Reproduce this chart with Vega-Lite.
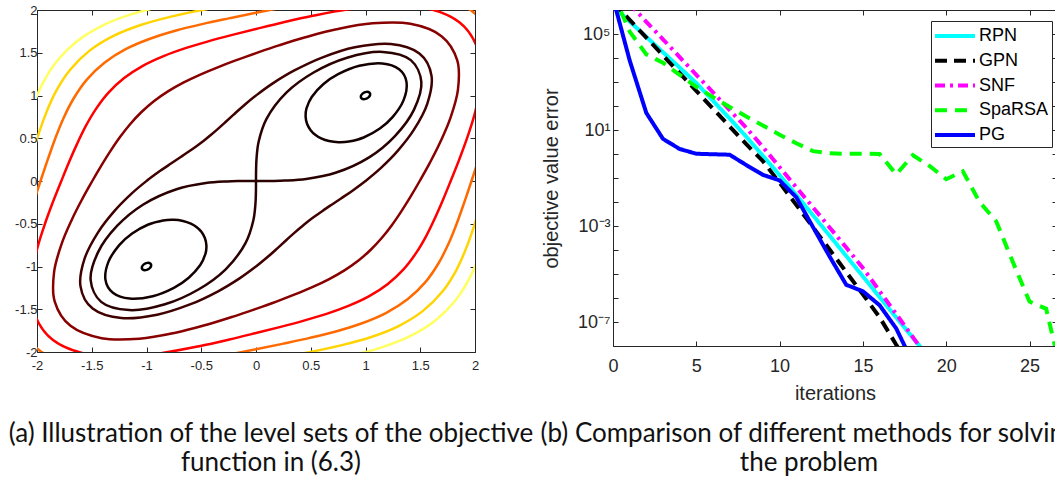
{
  "$schema": "https://vega.github.io/schema/vega-lite/v6.json",
  "background": "white",
  "padding": {"left": 8, "top": 1, "right": 0, "bottom": 0},
  "bounds": "flush",
  "spacing": 138,
  "resolve": {"scale": {"color": "independent", "strokeDash": "independent"}, "legend": {"color": "independent", "strokeDash": "independent"}},
  "config": {
    "view": {"stroke": null},
    "font": "Liberation Sans",
    "axis": {"grid": false, "domainColor": "#262626", "tickColor": "#262626", "labelColor": "#262626", "titleColor": "#262626", "titleFontWeight": "normal", "labelOverlap": false, "labelFlush": false}
  },
  "datasets": {
    "loops": [
      {"id":"t1","x":1.035,"y":1.035},{"id":"t1","x":1.0425,"y":1.0075},{"id":"t1","x":1.0248,"y":0.9752},{"id":"t1","x":0.9925,"y":0.9575},{"id":"t1","x":0.965,"y":0.965},{"id":"t1","x":0.9575,"y":0.9925},{"id":"t1","x":0.9752,"y":1.0248},{"id":"t1","x":1.0075,"y":1.0425},
      {"id":"t2","x":-1.035,"y":-1.035},{"id":"t2","x":-1.0425,"y":-1.0075},{"id":"t2","x":-1.0248,"y":-0.9752},{"id":"t2","x":-0.9925,"y":-0.9575},{"id":"t2","x":-0.965,"y":-0.965},{"id":"t2","x":-0.9575,"y":-0.9925},{"id":"t2","x":-0.9752,"y":-1.0248},{"id":"t2","x":-1.0075,"y":-1.0425},
      {"id":"el1","x":0.983,"y":0.509},{"id":"el1","x":1.131,"y":0.614},{"id":"el1","x":1.249,"y":0.75},{"id":"el1","x":1.347,"y":0.943},{"id":"el1","x":1.375,"y":1.154},{"id":"el1","x":1.307,"y":1.307},{"id":"el1","x":1.154,"y":1.375},{"id":"el1","x":0.943,"y":1.347},{"id":"el1","x":0.75,"y":1.249},{"id":"el1","x":0.614,"y":1.131},{"id":"el1","x":0.509,"y":0.983},{"id":"el1","x":0.461,"y":0.848},{"id":"el1","x":0.453,"y":0.753},{"id":"el1","x":0.467,"y":0.667},{"id":"el1","x":0.499,"y":0.595},{"id":"el1","x":0.541,"y":0.541},{"id":"el1","x":0.595,"y":0.499},{"id":"el1","x":0.667,"y":0.467},{"id":"el1","x":0.753,"y":0.453},{"id":"el1","x":0.848,"y":0.461},
      {"id":"el2","x":-0.983,"y":-0.509},{"id":"el2","x":-1.131,"y":-0.614},{"id":"el2","x":-1.249,"y":-0.75},{"id":"el2","x":-1.347,"y":-0.943},{"id":"el2","x":-1.375,"y":-1.154},{"id":"el2","x":-1.307,"y":-1.307},{"id":"el2","x":-1.154,"y":-1.375},{"id":"el2","x":-0.943,"y":-1.347},{"id":"el2","x":-0.75,"y":-1.249},{"id":"el2","x":-0.614,"y":-1.131},{"id":"el2","x":-0.509,"y":-0.983},{"id":"el2","x":-0.461,"y":-0.848},{"id":"el2","x":-0.453,"y":-0.753},{"id":"el2","x":-0.467,"y":-0.667},{"id":"el2","x":-0.499,"y":-0.595},{"id":"el2","x":-0.541,"y":-0.541},{"id":"el2","x":-0.595,"y":-0.499},{"id":"el2","x":-0.667,"y":-0.467},{"id":"el2","x":-0.753,"y":-0.453},{"id":"el2","x":-0.848,"y":-0.461},
      {"id":"a","x":1,"y":0},{"id":"a","x":1.139,"y":0.15},{"id":"a","x":1.29,"y":0.346},{"id":"a","x":1.441,"y":0.597},{"id":"a","x":1.564,"y":0.903},{"id":"a","x":1.603,"y":1.23},{"id":"a","x":1.492,"y":1.492},{"id":"a","x":1.23,"y":1.603},{"id":"a","x":0.903,"y":1.564},{"id":"a","x":0.597,"y":1.441},{"id":"a","x":0.346,"y":1.29},{"id":"a","x":0.15,"y":1.139},{"id":"a","x":0,"y":1},
      {"id":"a","x":-0.116,"y":0.878},{"id":"a","x":-0.207,"y":0.773},{"id":"a","x":-0.283,"y":0.684},{"id":"a","x":-0.35,"y":0.607},{"id":"a","x":-0.413,"y":0.538},{"id":"a","x":-0.474,"y":0.474},{"id":"a","x":-0.538,"y":0.413},{"id":"a","x":-0.607,"y":0.35},{"id":"a","x":-0.684,"y":0.283},{"id":"a","x":-0.773,"y":0.207},{"id":"a","x":-0.878,"y":0.116},{"id":"a","x":-1,"y":0},
      {"id":"a","x":-1.139,"y":-0.15},{"id":"a","x":-1.29,"y":-0.346},{"id":"a","x":-1.441,"y":-0.597},{"id":"a","x":-1.564,"y":-0.903},{"id":"a","x":-1.603,"y":-1.23},{"id":"a","x":-1.492,"y":-1.492},{"id":"a","x":-1.23,"y":-1.603},{"id":"a","x":-0.903,"y":-1.564},{"id":"a","x":-0.597,"y":-1.441},{"id":"a","x":-0.346,"y":-1.29},{"id":"a","x":-0.15,"y":-1.139},{"id":"a","x":0,"y":-1},
      {"id":"a","x":0.116,"y":-0.878},{"id":"a","x":0.207,"y":-0.773},{"id":"a","x":0.283,"y":-0.684},{"id":"a","x":0.35,"y":-0.607},{"id":"a","x":0.413,"y":-0.538},{"id":"a","x":0.474,"y":-0.474},{"id":"a","x":0.538,"y":-0.413},{"id":"a","x":0.607,"y":-0.35},{"id":"a","x":0.684,"y":-0.283},{"id":"a","x":0.773,"y":-0.207},{"id":"a","x":0.878,"y":-0.116},
      {"id":"d","x":1.495,"y":0},{"id":"d","x":1.586,"y":0.209},{"id":"d","x":1.681,"y":0.45},{"id":"d","x":1.775,"y":0.735},{"id":"d","x":1.844,"y":1.065},{"id":"d","x":1.838,"y":1.41},{"id":"d","x":1.694,"y":1.694},{"id":"d","x":1.41,"y":1.838},{"id":"d","x":1.065,"y":1.844},{"id":"d","x":0.735,"y":1.775},{"id":"d","x":0.45,"y":1.681},{"id":"d","x":0.209,"y":1.586},{"id":"d","x":0,"y":1.495},
      {"id":"d","x":-0.186,"y":1.41},{"id":"d","x":-0.355,"y":1.327},{"id":"d","x":-0.514,"y":1.242},{"id":"d","x":-0.664,"y":1.15},{"id":"d","x":-0.804,"y":1.048},{"id":"d","x":-0.933,"y":0.933},{"id":"d","x":-1.048,"y":0.804},{"id":"d","x":-1.15,"y":0.664},{"id":"d","x":-1.242,"y":0.514},{"id":"d","x":-1.327,"y":0.355},{"id":"d","x":-1.41,"y":0.186},{"id":"d","x":-1.495,"y":0},
      {"id":"d","x":-1.586,"y":-0.209},{"id":"d","x":-1.681,"y":-0.45},{"id":"d","x":-1.775,"y":-0.735},{"id":"d","x":-1.844,"y":-1.065},{"id":"d","x":-1.838,"y":-1.41},{"id":"d","x":-1.694,"y":-1.694},{"id":"d","x":-1.41,"y":-1.838},{"id":"d","x":-1.065,"y":-1.844},{"id":"d","x":-0.735,"y":-1.775},{"id":"d","x":-0.45,"y":-1.681},{"id":"d","x":-0.209,"y":-1.586},{"id":"d","x":0,"y":-1.495},
      {"id":"d","x":0.186,"y":-1.41},{"id":"d","x":0.355,"y":-1.327},{"id":"d","x":0.514,"y":-1.242},{"id":"d","x":0.664,"y":-1.15},{"id":"d","x":0.804,"y":-1.048},{"id":"d","x":0.933,"y":-0.933},{"id":"d","x":1.048,"y":-0.804},{"id":"d","x":1.15,"y":-0.664},{"id":"d","x":1.242,"y":-0.514},{"id":"d","x":1.327,"y":-0.355},{"id":"d","x":1.41,"y":-0.186},
      {"id":"e","x":1.778,"y":0},{"id":"e","x":1.854,"y":0.244},{"id":"e","x":1.932,"y":0.518},{"id":"e","x":2.006,"y":0.831},{"id":"e","x":2.053,"y":1.185},{"id":"e","x":2.023,"y":1.552},{"id":"e","x":1.857,"y":1.857},{"id":"e","x":1.552,"y":2.023},{"id":"e","x":1.185,"y":2.053},{"id":"e","x":0.831,"y":2.006},{"id":"e","x":0.518,"y":1.932},{"id":"e","x":0.244,"y":1.854},{"id":"e","x":0,"y":1.778},
      {"id":"e","x":-0.225,"y":1.706},{"id":"e","x":-0.437,"y":1.633},{"id":"e","x":-0.644,"y":1.554},{"id":"e","x":-0.844,"y":1.461},{"id":"e","x":-1.034,"y":1.347},{"id":"e","x":-1.204,"y":1.204},{"id":"e","x":-1.347,"y":1.034},{"id":"e","x":-1.461,"y":0.844},{"id":"e","x":-1.554,"y":0.644},{"id":"e","x":-1.633,"y":0.437},{"id":"e","x":-1.706,"y":0.225},{"id":"e","x":-1.778,"y":0},
      {"id":"e","x":-1.854,"y":-0.244},{"id":"e","x":-1.932,"y":-0.518},{"id":"e","x":-2.006,"y":-0.831},{"id":"e","x":-2.053,"y":-1.185},{"id":"e","x":-2.023,"y":-1.552},{"id":"e","x":-1.857,"y":-1.857},{"id":"e","x":-1.552,"y":-2.023},{"id":"e","x":-1.185,"y":-2.053},{"id":"e","x":-0.831,"y":-2.006},{"id":"e","x":-0.518,"y":-1.932},{"id":"e","x":-0.244,"y":-1.854},{"id":"e","x":0,"y":-1.778},
      {"id":"e","x":0.225,"y":-1.706},{"id":"e","x":0.437,"y":-1.633},{"id":"e","x":0.644,"y":-1.554},{"id":"e","x":0.844,"y":-1.461},{"id":"e","x":1.034,"y":-1.347},{"id":"e","x":1.204,"y":-1.204},{"id":"e","x":1.347,"y":-1.034},{"id":"e","x":1.461,"y":-0.844},{"id":"e","x":1.554,"y":-0.644},{"id":"e","x":1.633,"y":-0.437},{"id":"e","x":1.706,"y":-0.225},
      {"id":"f","x":1.968,"y":0},{"id":"f","x":2.036,"y":0.268},{"id":"f","x":2.105,"y":0.564},{"id":"f","x":2.169,"y":0.899},{"id":"f","x":2.204,"y":1.272},{"id":"f","x":2.16,"y":1.658},{"id":"f","x":1.979,"y":1.979},{"id":"f","x":1.658,"y":2.16},{"id":"f","x":1.272,"y":2.204},{"id":"f","x":0.899,"y":2.169},{"id":"f","x":0.564,"y":2.105},{"id":"f","x":0.268,"y":2.036},{"id":"f","x":0,"y":1.968},
      {"id":"f","x":-0.25,"y":1.902},{"id":"f","x":-0.492,"y":1.835},{"id":"f","x":-0.729,"y":1.76},{"id":"f","x":-0.962,"y":1.667},{"id":"f","x":-1.186,"y":1.545},{"id":"f","x":-1.384,"y":1.384},{"id":"f","x":-1.545,"y":1.186},{"id":"f","x":-1.667,"y":0.962},{"id":"f","x":-1.76,"y":0.729},{"id":"f","x":-1.835,"y":0.492},{"id":"f","x":-1.902,"y":0.25},{"id":"f","x":-1.968,"y":0},
      {"id":"f","x":-2.036,"y":-0.268},{"id":"f","x":-2.105,"y":-0.564},{"id":"f","x":-2.169,"y":-0.899},{"id":"f","x":-2.204,"y":-1.272},{"id":"f","x":-2.16,"y":-1.658},{"id":"f","x":-1.979,"y":-1.979},{"id":"f","x":-1.658,"y":-2.16},{"id":"f","x":-1.272,"y":-2.204},{"id":"f","x":-0.899,"y":-2.169},{"id":"f","x":-0.564,"y":-2.105},{"id":"f","x":-0.268,"y":-2.036},{"id":"f","x":0,"y":-1.968},
      {"id":"f","x":0.25,"y":-1.902},{"id":"f","x":0.492,"y":-1.835},{"id":"f","x":0.729,"y":-1.76},{"id":"f","x":0.962,"y":-1.667},{"id":"f","x":1.186,"y":-1.545},{"id":"f","x":1.384,"y":-1.384},{"id":"f","x":1.545,"y":-1.186},{"id":"f","x":1.667,"y":-0.962},{"id":"f","x":1.76,"y":-0.729},{"id":"f","x":1.835,"y":-0.492},{"id":"f","x":1.902,"y":-0.25}
    ],
    "arcs": [
      {"id":"e1","x":0,"y":0},{"id":"e1","x":0.026,"y":0},{"id":"e1","x":0.145,"y":0.001},{"id":"e1","x":0.264,"y":0.005},{"id":"e1","x":0.458,"y":0.024},{"id":"e1","x":0.726,"y":0.096},{"id":"e1","x":1.033,"y":0.277},{"id":"e1","x":1.269,"y":0.526},{"id":"e1","x":1.442,"y":0.832},{"id":"e1","x":1.51,"y":1.158},{"id":"e1","x":1.414,"y":1.414},{"id":"e1","x":1.158,"y":1.51},{"id":"e1","x":0.832,"y":1.442},{"id":"e1","x":0.526,"y":1.269},{"id":"e1","x":0.277,"y":1.033},{"id":"e1","x":0.096,"y":0.726},{"id":"e1","x":0.024,"y":0.458},{"id":"e1","x":0.005,"y":0.264},{"id":"e1","x":0.001,"y":0.145},{"id":"e1","x":0,"y":0.026},{"id":"e1","x":0,"y":0},
      {"id":"e2","x":0,"y":0},{"id":"e2","x":-0.026,"y":0},{"id":"e2","x":-0.145,"y":-0.001},{"id":"e2","x":-0.264,"y":-0.005},{"id":"e2","x":-0.458,"y":-0.024},{"id":"e2","x":-0.726,"y":-0.096},{"id":"e2","x":-1.033,"y":-0.277},{"id":"e2","x":-1.269,"y":-0.526},{"id":"e2","x":-1.442,"y":-0.832},{"id":"e2","x":-1.51,"y":-1.158},{"id":"e2","x":-1.414,"y":-1.414},{"id":"e2","x":-1.158,"y":-1.51},{"id":"e2","x":-0.832,"y":-1.442},{"id":"e2","x":-0.526,"y":-1.269},{"id":"e2","x":-0.277,"y":-1.033},{"id":"e2","x":-0.096,"y":-0.726},{"id":"e2","x":-0.024,"y":-0.458},{"id":"e2","x":-0.005,"y":-0.264},{"id":"e2","x":-0.001,"y":-0.145},{"id":"e2","x":0,"y":-0.026},{"id":"e2","x":0,"y":0},
      {"id":"g1","x":0,"y":2.115},{"id":"g1","x":-0.27,"y":2.053},{"id":"g1","x":-0.533,"y":1.99},{"id":"g1","x":-0.794,"y":1.917},{"id":"g1","x":-1.053,"y":1.825},{"id":"g1","x":-1.302,"y":1.697},{"id":"g1","x":-1.522,"y":1.522},{"id":"g1","x":-1.697,"y":1.302},{"id":"g1","x":-1.825,"y":1.053},{"id":"g1","x":-1.917,"y":0.794},{"id":"g1","x":-1.99,"y":0.533},{"id":"g1","x":-2.053,"y":0.27},{"id":"g1","x":-2.115,"y":0},
      {"id":"g2","x":0,"y":-2.115},{"id":"g2","x":0.27,"y":-2.053},{"id":"g2","x":0.533,"y":-1.99},{"id":"g2","x":0.794,"y":-1.917},{"id":"g2","x":1.053,"y":-1.825},{"id":"g2","x":1.302,"y":-1.697},{"id":"g2","x":1.522,"y":-1.522},{"id":"g2","x":1.697,"y":-1.302},{"id":"g2","x":1.825,"y":-1.053},{"id":"g2","x":1.917,"y":-0.794},{"id":"g2","x":1.99,"y":-0.533},{"id":"g2","x":2.053,"y":-0.27},{"id":"g2","x":2.115,"y":0},
      {"id":"h1","x":0,"y":2.236},{"id":"h1","x":-0.287,"y":2.178},{"id":"h1","x":-0.567,"y":2.117},{"id":"h1","x":-0.848,"y":2.047},{"id":"h1","x":-1.128,"y":1.954},{"id":"h1","x":-1.398,"y":1.821},{"id":"h1","x":-1.635,"y":1.635},{"id":"h1","x":-1.821,"y":1.398},{"id":"h1","x":-1.954,"y":1.128},{"id":"h1","x":-2.047,"y":0.848},{"id":"h1","x":-2.117,"y":0.567},{"id":"h1","x":-2.178,"y":0.287},{"id":"h1","x":-2.236,"y":0},
      {"id":"h2","x":0,"y":-2.236},{"id":"h2","x":0.287,"y":-2.178},{"id":"h2","x":0.567,"y":-2.117},{"id":"h2","x":0.848,"y":-2.047},{"id":"h2","x":1.128,"y":-1.954},{"id":"h2","x":1.398,"y":-1.821},{"id":"h2","x":1.635,"y":-1.635},{"id":"h2","x":1.821,"y":-1.398},{"id":"h2","x":1.954,"y":-1.128},{"id":"h2","x":2.047,"y":-0.848},{"id":"h2","x":2.117,"y":-0.567},{"id":"h2","x":2.178,"y":-0.287},{"id":"h2","x":2.236,"y":0}
    ],
    "conv": [
      {"m":"RPN","it":0,"v":1.445e6},{"m":"RPN","it":1,"v":3.311e5},{"m":"RPN","it":2,"v":7.586e4},{"m":"RPN","it":3,"v":1.738e4},{"m":"RPN","it":4,"v":3981},{"m":"RPN","it":5,"v":912},{"m":"RPN","it":6,"v":166},{"m":"RPN","it":7,"v":30.2},{"m":"RPN","it":8,"v":5.248},{"m":"RPN","it":9,"v":0.8318},{"m":"RPN","it":10,"v":0.1318},{"m":"RPN","it":11,"v":0.01995},{"m":"RPN","it":12,"v":2.818e-3},{"m":"RPN","it":13,"v":3.981e-4},{"m":"RPN","it":14,"v":5.623e-5},{"m":"RPN","it":15,"v":7.943e-6},{"m":"RPN","it":16,"v":1.096e-6},{"m":"RPN","it":17,"v":1.549e-7},{"m":"RPN","it":18,"v":2.188e-8},{"m":"RPN","it":19,"v":3.162e-9},
      {"m":"GPN","it":0,"v":2.138e6},{"m":"GPN","it":1,"v":3.89e5},{"m":"GPN","it":2,"v":7.079e4},{"m":"GPN","it":3,"v":1.288e4},{"m":"GPN","it":4,"v":2344},{"m":"GPN","it":5,"v":426.6},{"m":"GPN","it":6,"v":77.6},{"m":"GPN","it":7,"v":14.13},{"m":"GPN","it":8,"v":2.57},{"m":"GPN","it":9,"v":0.5012},{"m":"GPN","it":10,"v":0.0631},{"m":"GPN","it":11,"v":7.586e-3},{"m":"GPN","it":12,"v":8.913e-4},{"m":"GPN","it":13,"v":1.047e-4},{"m":"GPN","it":14,"v":1.202e-5},{"m":"GPN","it":15,"v":1.413e-6},{"m":"GPN","it":16,"v":1.585e-7},{"m":"GPN","it":17,"v":1.122e-8},{"m":"GPN","it":18,"v":1e-9},
      {"m":"SNF","it":0,"v":9.772e6},{"m":"SNF","it":1,"v":1.778e6},{"m":"SNF","it":2,"v":3.236e5},{"m":"SNF","it":3,"v":6.026e4},{"m":"SNF","it":4,"v":1.096e4},{"m":"SNF","it":5,"v":1995},{"m":"SNF","it":6,"v":371.5},{"m":"SNF","it":7,"v":67.6},{"m":"SNF","it":8,"v":12.3},{"m":"SNF","it":9,"v":1.95},{"m":"SNF","it":10,"v":0.2818},{"m":"SNF","it":11,"v":0.04074},{"m":"SNF","it":12,"v":6.026e-3},{"m":"SNF","it":13,"v":8.71e-4},{"m":"SNF","it":14,"v":1.259e-4},{"m":"SNF","it":15,"v":1.778e-5},{"m":"SNF","it":16,"v":1.95e-6},{"m":"SNF","it":17,"v":2.138e-7},{"m":"SNF","it":18,"v":2.344e-8},{"m":"SNF","it":19,"v":2.512e-9},
      {"m":"SpaRSA","it":0,"v":5.012e6},{"m":"SpaRSA","it":1,"v":1.259e5},{"m":"SpaRSA","it":2,"v":1.413e4},{"m":"SpaRSA","it":3,"v":6310},{"m":"SpaRSA","it":4,"v":1995},{"m":"SpaRSA","it":5,"v":631},{"m":"SpaRSA","it":6,"v":234.4},{"m":"SpaRSA","it":7,"v":91.2},{"m":"SpaRSA","it":8,"v":36.3},{"m":"SpaRSA","it":9,"v":15.5},{"m":"SpaRSA","it":10,"v":6.31},{"m":"SpaRSA","it":11,"v":2.818},{"m":"SpaRSA","it":12,"v":1.318},{"m":"SpaRSA","it":13,"v":1.072},{"m":"SpaRSA","it":14,"v":1.023},{"m":"SpaRSA","it":15,"v":1.023},{"m":"SpaRSA","it":16,"v":1.0},{"m":"SpaRSA","it":17,"v":0.1413},{"m":"SpaRSA","it":18,"v":0.8913},{"m":"SpaRSA","it":19,"v":0.3162},{"m":"SpaRSA","it":20,"v":0.08913},{"m":"SpaRSA","it":21,"v":0.1905},{"m":"SpaRSA","it":22,"v":0.01},{"m":"SpaRSA","it":23,"v":1.585e-3},{"m":"SpaRSA","it":24,"v":3.162e-5},{"m":"SpaRSA","it":25,"v":7.079e-7},{"m":"SpaRSA","it":26,"v":3.548e-7},{"m":"SpaRSA","it":27,"v":3.981e-10},
      {"m":"PG","it":0,"v":3.162e6},{"m":"PG","it":1,"v":7943},{"m":"PG","it":2,"v":51.3},{"m":"PG","it":3,"v":4.266},{"m":"PG","it":4,"v":1.622},{"m":"PG","it":5,"v":1.023},{"m":"PG","it":6,"v":0.977},{"m":"PG","it":7,"v":0.933},{"m":"PG","it":8,"v":0.3467},{"m":"PG","it":9,"v":0.1349},{"m":"PG","it":10,"v":0.07943},{"m":"PG","it":11,"v":0.01585},{"m":"PG","it":12,"v":9.12e-4},{"m":"PG","it":13,"v":5.37e-5},{"m":"PG","it":14,"v":3.548e-6},{"m":"PG","it":15,"v":1.905e-6},{"m":"PG","it":16,"v":5.012e-7},{"m":"PG","it":17,"v":5.37e-8},{"m":"PG","it":18,"v":1.995e-9}
    ]
  },
  "hconcat": [
    {
      "width": 438,
      "height": 342,
      "title": {"text": ["(a) Illustration of the level sets of the objective", "function in (6.3)"], "orient": "bottom", "anchor": "middle", "font": "Lato", "fontSize": 26, "fontWeight": "normal", "color": "#111111", "lineHeight": 29, "offset": 49, "dx": 15},
      "layer": [
        {
          "data": {"name": "loops"},
          "mark": {"type": "line", "interpolate": "cardinal-closed", "strokeWidth": 2.5, "clip": true},
          "encoding": {
            "x": {"field": "x", "type": "quantitative", "scale": {"domain": [-2, 2], "nice": false, "zero": false},
                  "axis": {"orient": "bottom", "values": [-2, -1.5, -1, -0.5, 0, 0.5, 1, 1.5, 2], "tickSize": -5, "labelPadding": 12, "labelFontSize": 13, "title": null, "labelExpr": "replace(format(datum.value, '~g'), '\u2212', '-')"}},
            "y": {"field": "y", "type": "quantitative", "scale": {"domain": [-2, 2], "nice": false, "zero": false},
                  "axis": {"orient": "left", "values": [-2, -1.5, -1, -0.5, 0, 0.5, 1, 1.5, 2], "tickSize": -5, "labelPadding": 5, "labelFontSize": 13, "title": null, "labelExpr": "replace(format(datum.value, '~g'), '\u2212', '-')"}},
            "color": {"field": "id", "type": "nominal", "legend": null,
                      "scale": {"domain": ["t1","t2","el1","el2","e1","e2","a","d","e","f","g1","g2","h1","h2"], "range": ["#000000","#000000","#140000","#140000","#2a0000","#2a0000","#400000","#880000","#ff0000","#ff6a00","#ffd400","#ffd400","#ffff60","#ffff60"]}},
            "order": {"value": null}
          }
        },
        {
          "data": {"name": "arcs"},
          "mark": {"type": "line", "interpolate": "catmull-rom", "strokeWidth": 2.5, "clip": true},
          "encoding": {
            "x": {"field": "x", "type": "quantitative", "scale": {"domain": [-2, 2], "nice": false, "zero": false},
                  "axis": {"orient": "top", "values": [-2, -1.5, -1, -0.5, 0, 0.5, 1, 1.5, 2], "tickSize": -5, "labels": false, "title": null}},
            "y": {"field": "y", "type": "quantitative", "scale": {"domain": [-2, 2], "nice": false, "zero": false},
                  "axis": {"orient": "right", "values": [-2, -1.5, -1, -0.5, 0, 0.5, 1, 1.5, 2], "tickSize": -5, "labels": false, "title": null}},
            "color": {"field": "id", "type": "nominal", "legend": null,
                      "scale": {"domain": ["t1","t2","el1","el2","e1","e2","a","d","e","f","g1","g2","h1","h2"], "range": ["#000000","#000000","#140000","#140000","#2a0000","#2a0000","#400000","#880000","#ff0000","#ff6a00","#ffd400","#ffd400","#ffff60","#ffff60"]}},
            "order": {"value": null}
          }
        }
      ],
      "resolve": {"axis": {"x": "independent", "y": "independent"}}
    },
    {
      "width": 444,
      "height": 336,
      "title": {"text": ["(b) Comparison of different methods for solving", "the problem"], "orient": "bottom", "anchor": "middle", "font": "Lato", "fontSize": 26, "fontWeight": "normal", "color": "#111111", "lineHeight": 29, "offset": 18, "dx": -26},
      "layer": [
        {
          "data": {"name": "conv"},
          "mark": {"type": "line", "strokeWidth": 4, "clip": true},
          "encoding": {
            "x": {"field": "it", "type": "quantitative", "scale": {"domain": [0, 26.65], "nice": false, "zero": false},
                  "axis": {"orient": "bottom", "values": [0, 5, 10, 15, 20, 25], "tickSize": -5, "labelPadding": 16, "labelFontSize": 18, "title": "iterations", "titleFontSize": 20, "titlePadding": 8}},
            "y": {"field": "v", "type": "quantitative", "scale": {"type": "log", "domain": [1e-8, 1e6], "nice": false},
                  "axis": {"orient": "left", "values": [1e-8, 1e-7, 1e-6, 1e-5, 1e-4, 1e-3, 1e-2, 1e-1, 1, 10, 100, 1000, 1e4, 1e5, 1e6], "tickSize": -5, "labelPadding": 8, "labelFontSize": 18, "title": "objective value error", "titleFontSize": 20, "titlePadding": 16,
                           "labelExpr": "datum.value == 100000 ? '10⁵' : datum.value == 10 ? '10¹' : datum.value == 0.001 ? '10⁻³' : datum.value == 1e-7 ? '10⁻⁷' : ''"}},
            "color": {"field": "m", "type": "nominal",
                      "scale": {"domain": ["RPN", "GPN", "SNF", "SpaRSA", "PG"], "range": ["#00ffff", "#000000", "#ff00ff", "#00ff00", "#0000ff"]},
                      "legend": {"title": null, "orient": "none", "legendX": 318, "legendY": 11, "symbolType": "M-2,0H2", "symbolSize": 400, "symbolStrokeWidth": 4, "labelFontSize": 18, "labelColor": "#000000", "strokeColor": "#262626", "fillColor": "white", "padding": 3, "rowPadding": 3.75, "symbolOffset": 9, "labelOffset": 12, "labelLimit": 300}},
            "strokeDash": {"field": "m", "type": "nominal",
                      "scale": {"domain": ["RPN", "GPN", "SNF", "SpaRSA", "PG"], "range": [[1, 0], [12, 7], [10, 5, 3, 5], [12, 8], [1, 0]]},
                      "legend": {"title": null, "orient": "none", "legendX": 318, "legendY": 11, "symbolType": "M-2,0H2", "symbolSize": 400, "symbolStrokeWidth": 4, "labelFontSize": 18, "labelColor": "#000000", "strokeColor": "#262626", "fillColor": "white", "padding": 3, "rowPadding": 3.75, "symbolOffset": 9, "labelOffset": 12, "labelLimit": 300}}
          }
        },
        {
          "data": {"name": "conv"},
          "mark": {"type": "point", "opacity": 0, "clip": true},
          "encoding": {
            "x": {"field": "it", "type": "quantitative", "scale": {"domain": [0, 26.65], "nice": false, "zero": false},
                  "axis": {"orient": "top", "values": [0, 5, 10, 15, 20, 25], "tickSize": -5, "labels": false, "title": null}},
            "y": {"field": "v", "type": "quantitative", "scale": {"type": "log", "domain": [1e-8, 1e6], "nice": false},
                  "axis": {"orient": "right", "values": [1e-8, 1e-7, 1e-6, 1e-5, 1e-4, 1e-3, 1e-2, 1e-1, 1, 10, 100, 1000, 1e4, 1e5, 1e6], "tickSize": -5, "labels": false, "title": null}}
          }
        }
      ],
      "resolve": {"axis": {"x": "independent", "y": "independent"}}
    }
  ]
}
